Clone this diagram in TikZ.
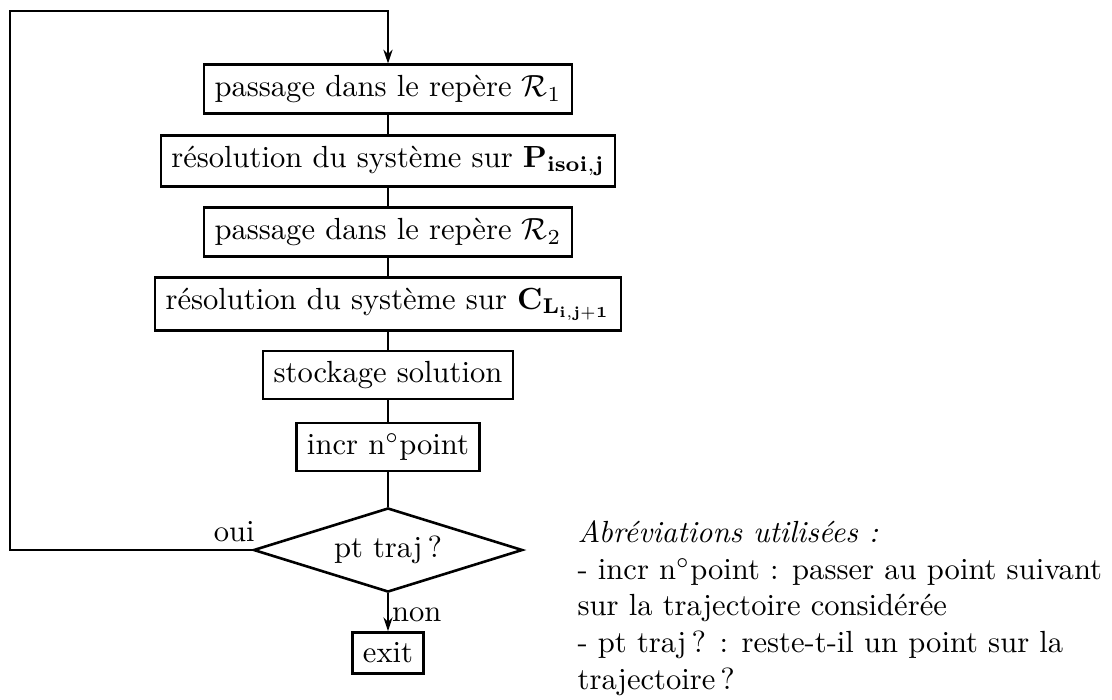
\documentclass[tikz,border=0pt]{standalone}
\usepackage{amsmath,amssymb}
\usetikzlibrary{arrows.meta, positioning, shapes.geometric}

\begin{document}
\begin{tikzpicture}[
  x=0.327pt, y=-0.327pt,
  >={Stealth[length=4.5pt, width=3pt]},
  box/.style={draw, line width=0.85pt, inner sep=3.4pt},
  test/.style={draw, diamond, aspect=3.2, line width=0.85pt, inner sep=0pt,
    minimum width=88pt, minimum height=27.5pt},
  lnk/.style={line width=0.65pt},
  arr/.style={->, line width=0.65pt},
  lbl/.style={inner sep=1pt},
]

\useasboundingbox (0,0) rectangle (1112,699);

% === Main chain ===
\node[box] (rep1) at (388,89) {passage dans le rep\`ere $\mathcal{R}_1$};
\node[box] (resP) at (388,161) {r\'esolution du syst\`eme sur $\mathbf{P_{isoi,j}}$};
\node[box] (rep2) at (388,232) {passage dans le rep\`ere $\mathcal{R}_2$};
\node[box] (resC) at (388,304) {r\'esolution du syst\`eme sur $\mathbf{C_{L_{i,j+1}}}$};
\node[box] (stock) at (388,375) {stockage solution};
\node[box] (incr) at (388,447) {incr n$^\circ$point};
\node[test] (traj) at (388,550) {pt traj\,?};
\node[box] (exit) at (388,653) {exit};

\draw[lnk] (rep1) -- (resP);
\draw[lnk] (resP) -- (rep2);
\draw[lnk] (rep2) -- (resC);
\draw[lnk] (resC) -- (stock);
\draw[lnk] (stock) -- (incr);
\draw[lnk] (incr) -- (traj);

% === Exits of the test ===
\coordinate (corner) at (10,11);
\draw[arr] (traj.west) -| (corner) -| (rep1.north);
\node[lbl, anchor=south east, xshift=2pt, yshift=1.5pt] (oui) at (traj.west) {oui};

\draw[arr] (traj.south) -- (exit.north)
  node[midway, right, lbl, yshift=-1pt] (non) {non};

% === Legend ===
\node[anchor=north west, align=left, inner sep=0pt] (legend) at (577,520)
  {\textit{Abr\'eviations utilis\'ees :}\\
   - incr n$^\circ$point : passer au point suivant\\
   sur la trajectoire consid\'er\'ee\\
   - pt traj\,? : reste-t-il un point sur la\\
   trajectoire\,?};

\end{tikzpicture}
\end{document}
